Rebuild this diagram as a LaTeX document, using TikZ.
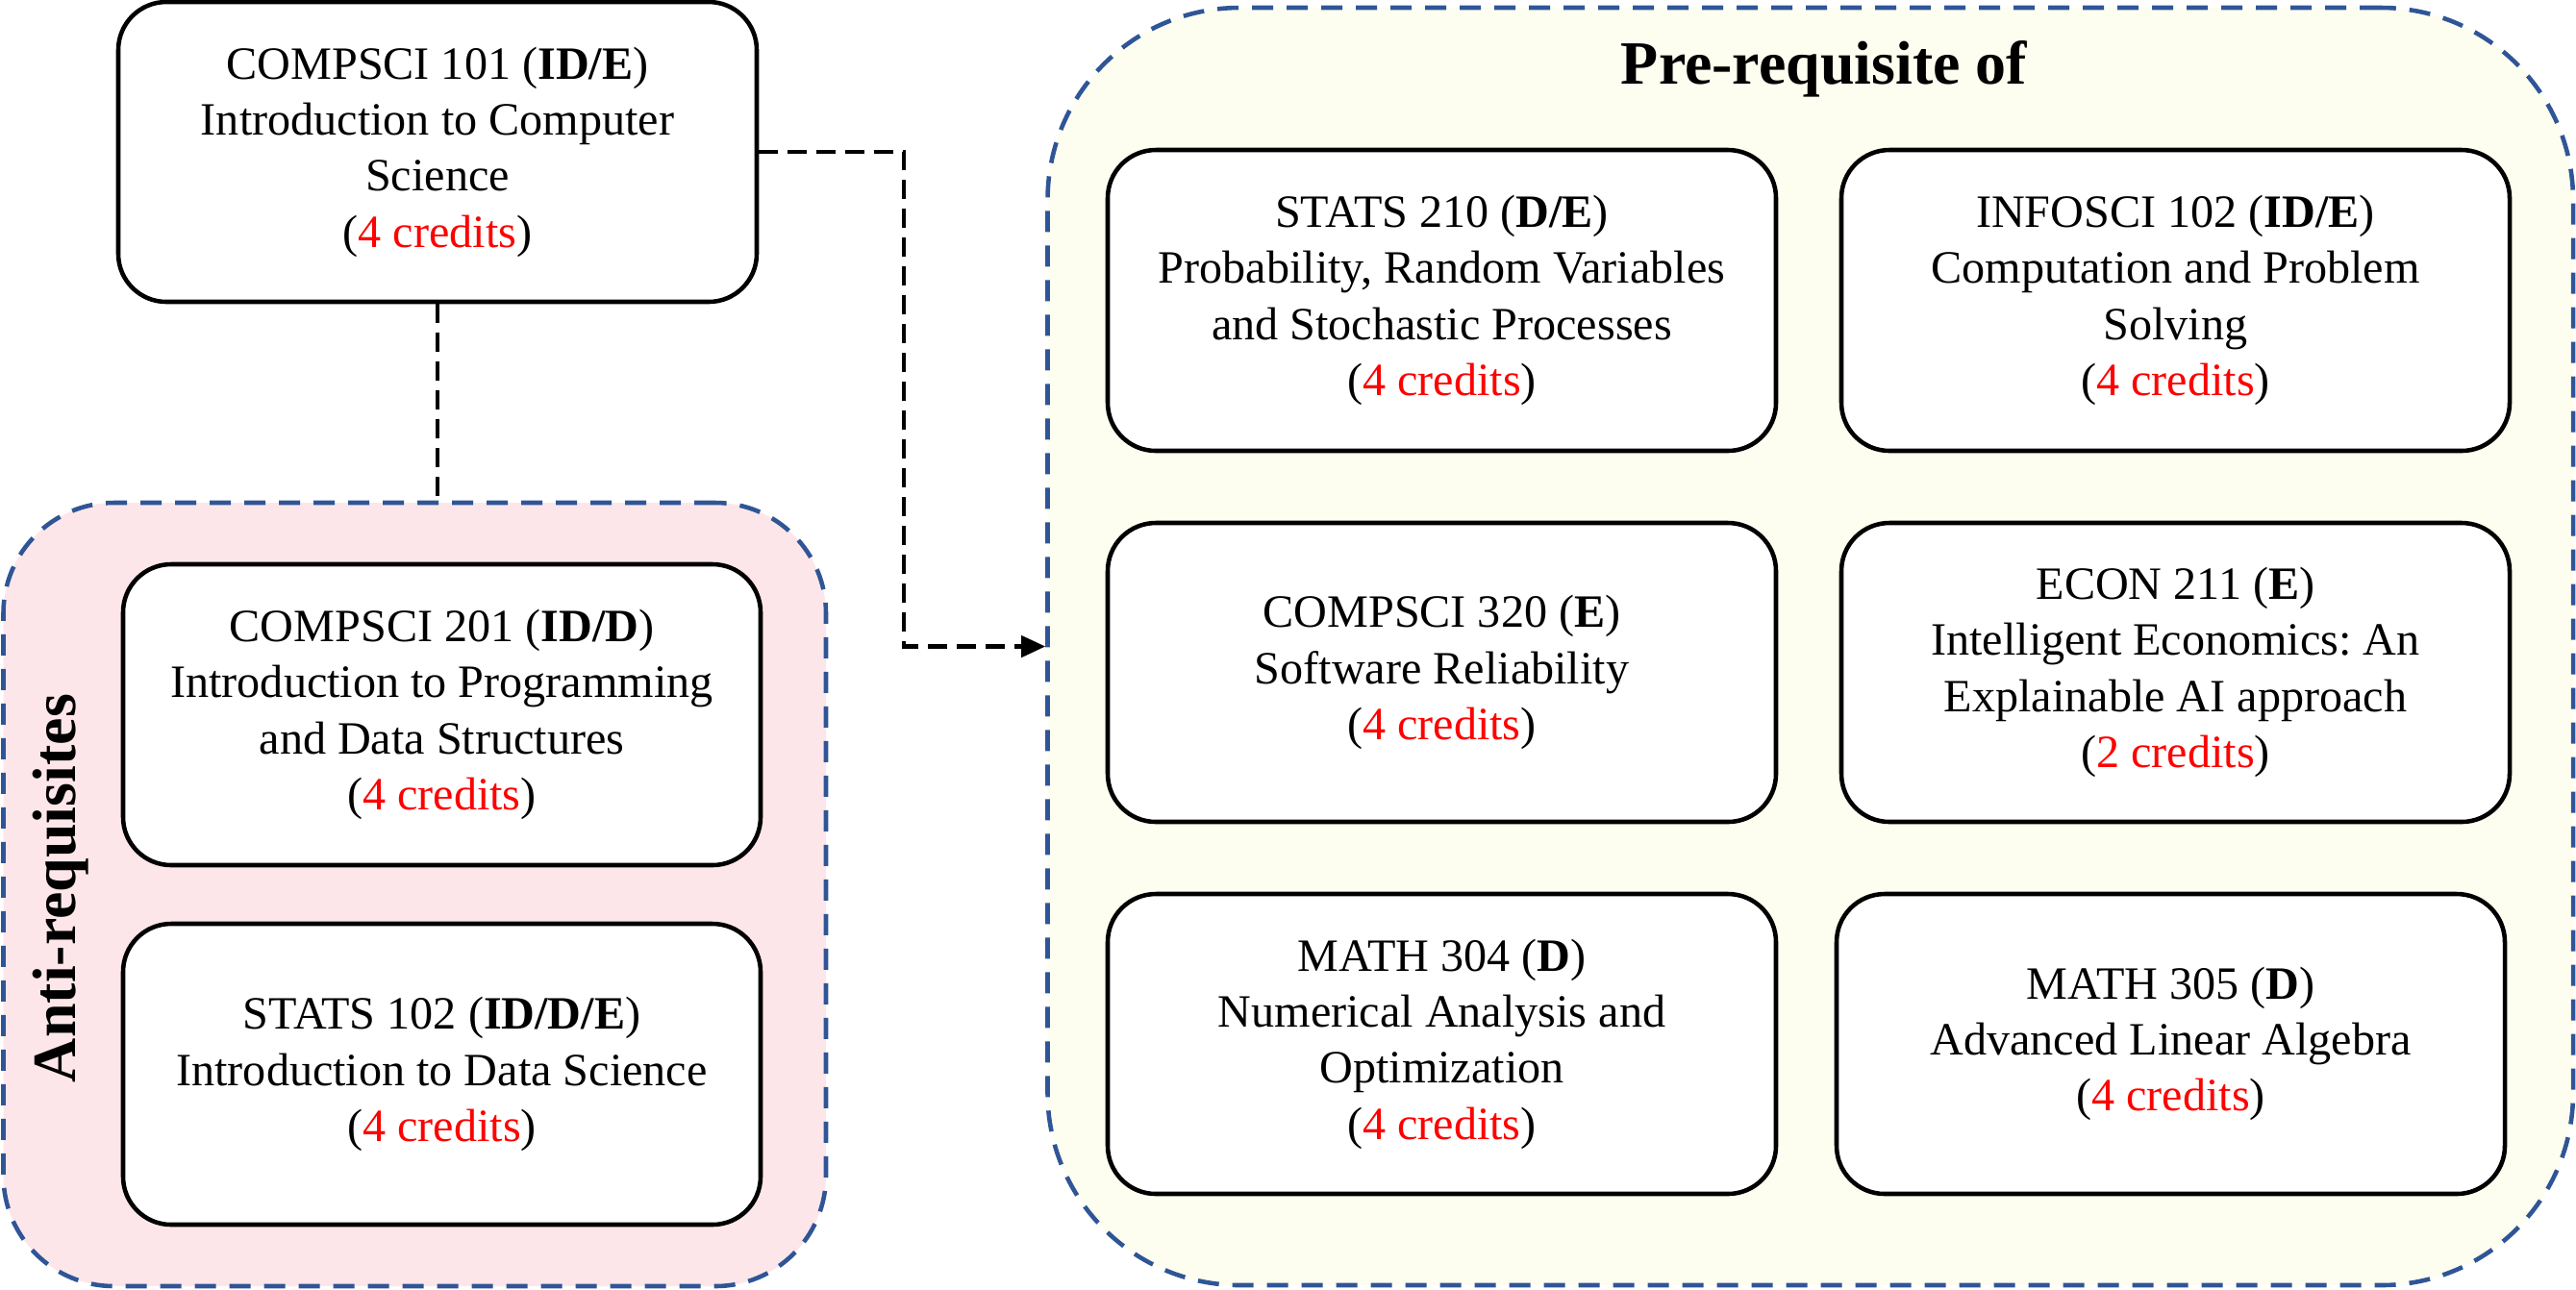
\documentclass[tikz,border=0pt]{standalone}
\usepackage{fontspec}
\setmainfont{Liberation Serif}
\usetikzlibrary{arrows.meta}
\definecolor{antipink}{RGB}{253,230,233}
\definecolor{prepale}{RGB}{253,253,240}
\definecolor{groupblue}{RGB}{47,85,151}
\newcommand{\cred}[1]{(\textcolor{red}{#1 credits})}
\frenchspacing
\begin{document}
\begin{tikzpicture}[
	course/.style={shape=rectangle, rounded corners=0.5cm, draw=black, line width=1.3pt, fill=white, minimum width=6.95cm, minimum height=3.13cm, inner sep=0pt, align=center, font=\fontsize{13.7pt}{16.6pt}\selectfont},
	group/.style={shape=rectangle, draw=groupblue, line width=1.3pt, dash pattern=on 0.22cm off 0.14cm, inner sep=0pt},
	grouplabel/.style={font=\fontsize{18.2pt}{21pt}\selectfont\bfseries},
	link/.style={line width=1.2pt, dash pattern=on 0.2cm off 0.1cm}
]
	\useasboundingbox (0,0) rectangle (26.79,-13.41);

	\draw (4.3125,-9.305) node[group, fill=antipink, rounded corners=1.15cm, minimum width=8.555cm, minimum height=8.15cm](anti){};
	\draw (18.8275,-6.725) node[group, fill=prepale, rounded corners=2cm, minimum width=15.865cm, minimum height=13.29cm](pre){};
	\draw (0.63,-9.24) node[grouplabel, rotate=90](antilabel){Anti-requisites};
	\draw (18.97,-0.87) node[grouplabel, anchor=base](prelabel){Pre-requisite of};

	\draw (4.55,-1.58) node[course, minimum width=6.64cm, minimum height=3.12cm](cs101){COMPSCI 101 (\textbf{ID/E})\\Introduction to Computer\\Science\\\cred{4}};
	\draw (4.595,-7.435) node[course, minimum width=6.63cm](cs201){COMPSCI 201 (\textbf{ID/D})\\Introduction to Programming\\and Data Structures\\\cred{4}};
	\draw (4.595,-11.175) node[course, minimum width=6.63cm](st102){STATS 102 (\textbf{ID/D/E})\\Introduction to Data Science\\\cred{4}};

	\draw (14.995,-3.125) node[course](st210){STATS 210 (\textbf{D/E})\\Probability, Random Variables\\and Stochastic Processes\\\cred{4}};
	\draw (22.625,-3.125) node[course](is102){INFOSCI 102 (\textbf{ID/E})\\Computation and Problem\\Solving\\\cred{4}};
	\draw (14.995,-6.995) node[course, minimum height=3.11cm](cs320){COMPSCI 320 (\textbf{E})\\Software Reliability\\\cred{4}};
	\draw (22.625,-6.995) node[course, minimum height=3.11cm](ec211){ECON 211 (\textbf{E})\\Intelligent Economics: An\\Explainable AI approach\\\cred{2}};
	\draw (14.995,-10.86) node[course, minimum height=3.12cm](ma304){MATH 304 (\textbf{D})\\Numerical Analysis and\\Optimization\\\cred{4}};
	\draw (22.575,-10.86) node[course, minimum height=3.12cm](ma305){MATH 305 (\textbf{D})\\Advanced Linear Algebra\\\cred{4}};

	\draw [link](cs101.south) -- (cs101.south |- anti.north);
	\draw [link, -{Triangle[length=0.25cm, width=0.22cm]}](cs101.east) -- ++(1.51,0) |- (pre.west);
\end{tikzpicture}
\end{document}
